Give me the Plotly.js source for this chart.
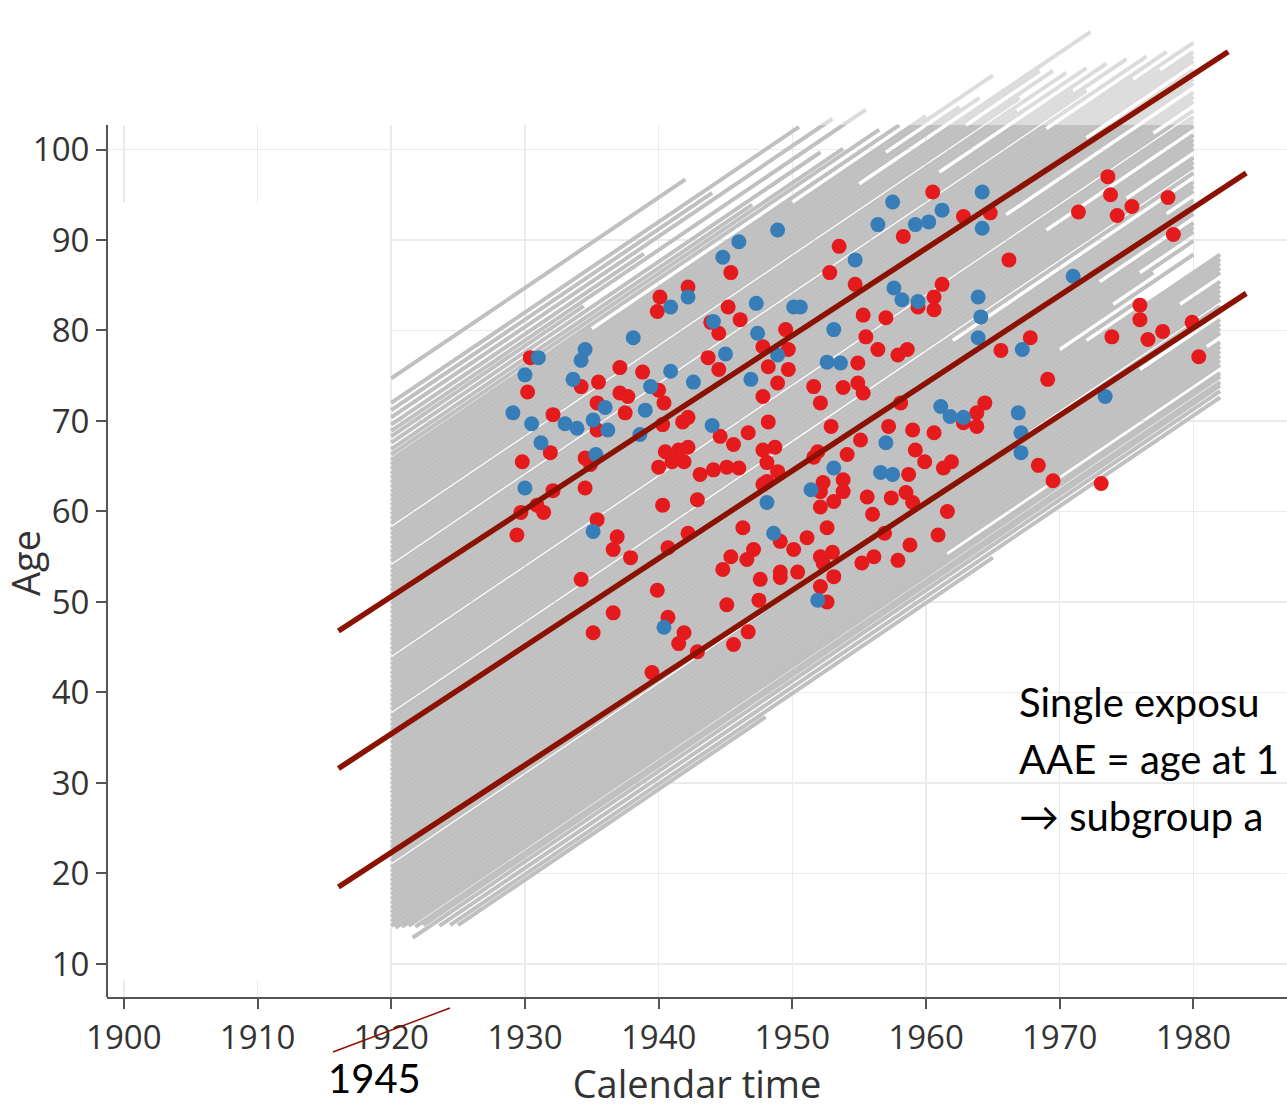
<!DOCTYPE html>
<html>
<head>
<meta charset="utf-8">
<script src="https://cdn.plot.ly/plotly-3.0.1.min.js"></script>
<style>
  html, body { margin: 0; padding: 0; background: #ffffff; overflow: hidden; }
  #chart { width: 1287px; height: 1109px; }
</style>
</head>
<body>
<div id="chart"></div>
<script>
// ---------- Data ----------
// Follow-up lines (Lexis lines): entry calendar year, entry age, exit calendar year
const lineEntryYear = [
  1920,1920,1920,1920,1920,1920,1920,1920,1920,1920,
  1920,1920,1920,1920,1920,1920,1920,1920,1920,1920,
  1920,1920,1920,1920,1920,1920,1920,1920,1920,1920,
  1920,1920,1920,1920,1920,1920,1920,1920,1920,1920,
  1920,1920,1920,1920,1920,1920,1920,1920,1920,1920,
  1920,1920,1920,1920,1920,1920,1920,1920,1920,1920,
  1920,1920,1920,1920,1920,1920,1920,1920,1920,1920,
  1920,1920,1920,1920,1920,1920,1920,1920,1920,1920,
  1920,1920,1920,1920,1920,1920,1920,1920,1920,1920,
  1920,1920,1920,1920,1920,1920,1920,1920,1920,1920,
  1920,1920,1920,1920,1920,1920,1920,1920,1920,1920,
  1920,1920,
  1920.3,1920.8,1921.3,1921.8,1922.4,1921.6,1923.6,1924.4,1925.0
];
const lineEntryAge = [
  74.7,72.0,71.2,70.4,69.6,68.9,68.3,67.6,66.9,66.3,
  65.7,65.2,64.7,64.2,63.7,63.2,62.7,62.2,61.7,61.2,
  60.7,60.2,59.7,59.2,58.7,58.0,57.5,57.0,56.5,56.0,
  55.5,55.0,54.5,53.8,53.3,52.8,52.3,51.8,51.3,50.8,
  50.3,49.8,49.3,48.8,48.3,47.8,47.3,46.8,46.3,45.8,
  45.3,44.8,44.3,43.6,43.1,42.6,42.1,41.6,41.1,40.6,
  40.1,39.6,39.1,38.6,38.1,37.4,36.9,36.4,35.9,35.4,
  34.9,34.4,33.9,33.4,32.9,32.4,31.9,31.4,30.9,30.4,
  29.9,29.4,28.9,28.4,27.9,27.4,26.9,26.4,25.9,25.4,
  24.9,24.4,23.9,23.4,22.9,22.4,21.9,21.4,20.7,20.2,
  19.7,19.2,18.7,18.2,17.7,17.2,16.7,16.2,15.7,15.2,
  14.7,14.2,
  14.0,14.1,14.2,14.1,14.3,12.9,14.2,14.3,14.3
];
const lineExitYear = [
  1942.0,1950.5,1944.0,1953.0,1938.9,1955.5,1934.4,1952.1,1947.0,1953.8,
  1956.5,1935.0,1958.0,1950.0,1960.0,1965.0,1957.0,1962.5,1964.0,1955.0,
  1972.3,1968.5,1963.0,1969.5,1967.0,1970.5,1966.8,1972.0,1961.0,1973.5,
  1971.0,1975.0,1972.0,1976.5,1969.0,1978.0,1975.5,1980.0,1977.5,1980.0,
  1980,1980,1972,1980,1980,1980,1980,1966,1980,1980,
  1980,1977,1980,1980,1980,1980,1969,1980,1980,1980,
  1980,1975,1980,1980,1980,1980,1962,1980,1980,1980,
  1978,1980,1980,1980,1980,1973,1980,1980,1980,1976,
  1980,1977,1974,1980,1970,1976,1972,1982,1982,1982,
  1982,1982,1979,1982,1982,1982,1982,1982,1982,1982,
  1976,1982,1982,1982,1982,1981,1982,1982,1982,1982,
  1982,1982,
  1961.6,1982,1982,1982,1982,1982,1982,1965,1948
];

// Cases (red) and subgroup (blue): calendar year, age
const redYear = [
  1945.4,1940.1,1942.2,1939.9,1945.2,1946.1,1943.9,1944.5,1952.8,1949.5,
  1947.8,1949.7,1948.2,1949.7,1948.9,1947.8,1951.6,1952.1,1943.7,1944.5,
  1930.4,1930.2,1935.5,1934.2,1937.1,1938.8,1937.1,1937.7,1937.5,1935.4,
  1935.4,1932.1,1940.0,1940.4,1940.3,1941.8,1942.2,1948.2,1944.6,1945.6,
  1946.7,1940.5,1941.5,1942.2,1940.0,1941.0,1941.9,1943.1,1944.1,1945.1,
  1946.0,1947.8,1948.7,1948.1,1947.8,1929.8,1931.9,1934.5,1934.9,1932.1,
  1951.6,1952.9,1952.3,1934.5,1930.9,1929.7,1931.4,1929.4,1935.4,1936.9,
  1936.6,1937.9,1940.3,1934.2,1939.9,1936.6,1935.1,1940.7,1941.5,1942.2,
  1940.7,1942.9,1941.9,1942.9,1939.5,1945.1,1945.6,1946.7,1947.5,1947.6,
  1949.1,1949.1,1950.4,1950.1,1949.1,1945.4,1946.6,1947.1,1944.8,1946.3,
  1951.1,1952.1,1953.0,1952.3,1953.1,1952.1,1952.6,1952.6,1955.2,1956.1,
  1957.9,1958.8,1960.9,1961.6,1956.9,1958.5,1958.7,1957.4,1955.6,1956.0,
  1959.0,1959.9,1961.3,1961.9,1952.1,1953.1,1953.8,1953.8,1952.1,1948.1,
  1948.9,1960.5,1962.8,1964.8,1958.3,1953.5,1954.7,1966.2,1973.6,1973.8,
  1971.4,1974.3,1975.4,1978.1,1978.5,1961.2,1960.6,1960.6,1959.4,1955.3,
  1957.0,1955.5,1956.4,1957.9,1958.6,1954.9,1953.8,1954.9,1955.3,1958.1,
  1955.1,1957.2,1965.6,1967.8,1969.1,1964.4,1963.8,1962.8,1959.0,1960.6,
  1959.2,1968.4,1969.5,1973.1,1976.0,1976.0,1973.9,1976.6,1977.7,1979.9,
  1980.4,1951.9,1954.1,1963.8
];
const redAge = [
  86.4,83.7,84.8,82.1,82.6,81.2,80.9,79.7,86.4,80.1,
  78.2,77.9,76.0,75.7,74.2,72.7,73.8,72.0,77.0,75.7,
  77.0,73.2,74.3,73.8,75.9,75.4,73.1,72.7,70.9,72.0,
  69.0,70.7,73.4,72.0,69.6,69.9,70.4,69.9,68.3,67.4,
  68.7,66.6,66.8,67.1,64.9,65.5,65.5,64.1,64.6,64.9,
  64.8,66.8,67.1,65.4,63.0,65.5,66.5,62.6,65.2,62.3,
  66.0,69.4,63.2,65.9,60.7,59.9,59.9,57.4,59.1,57.2,
  55.8,54.9,60.7,52.5,51.3,48.8,46.6,48.3,45.4,57.6,
  56.0,61.3,46.6,44.5,42.2,49.7,45.3,46.7,50.2,52.5,
  52.7,53.3,53.3,55.8,56.7,55.0,54.7,55.8,53.6,58.2,
  57.1,55.0,55.5,54.3,52.8,51.7,50.0,58.2,54.3,55.0,
  54.6,56.3,57.4,60.0,57.6,62.1,64.1,61.5,61.6,59.7,
  61.0,65.5,64.8,65.5,60.5,61.1,62.2,63.5,62.2,63.3,
  64.4,95.3,92.6,93.0,90.4,89.3,85.1,87.8,97.0,95.0,
  93.1,92.7,93.7,94.7,90.6,85.1,83.7,82.3,82.6,81.7,
  81.4,79.3,77.9,77.3,77.9,76.4,73.7,74.2,73.1,72.0,
  67.9,69.4,77.8,79.2,74.6,72.0,69.4,69.8,69.0,68.7,
  66.8,65.1,63.4,63.1,82.8,81.2,79.3,79.0,79.9,80.9,
  77.1,66.6,66.3,70.9
];
const blueYear = [
  1948.9,1946.0,1944.8,1940.9,1942.2,1947.3,1950.1,1944.1,1938.1,1934.5,
  1934.2,1931.0,1930.0,1947.4,1945.0,1948.9,1940.9,1942.6,1946.9,1933.6,
  1939.4,1929.1,1930.5,1933.0,1933.9,1935.1,1936.0,1936.2,1939.0,1938.6,
  1944.0,1931.2,1935.3,1930.0,1951.4,1952.6,1964.2,1957.5,1961.2,1956.4,
  1959.2,1960.2,1964.2,1954.7,1971.0,1957.6,1958.2,1959.4,1963.9,1964.1,
  1963.9,1950.6,1953.1,1953.6,1967.2,1961.1,1961.8,1962.8,1966.9,1967.1,
  1967.1,1973.4,1957.0,1956.6,1957.5,1953.1,1935.1,1940.4,1948.1,1951.9,
  1948.6
];
const blueAge = [
  91.1,89.8,88.1,82.6,83.7,83.0,82.6,81.0,79.2,77.9,
  76.7,77.0,75.1,79.7,77.4,77.3,75.5,74.3,74.6,74.6,
  73.8,70.9,69.7,69.7,69.2,70.1,71.5,69.0,71.2,68.5,
  69.5,67.6,66.3,62.6,62.4,76.5,95.3,94.2,93.3,91.7,
  91.7,92.0,91.3,87.8,86.0,84.7,83.4,83.2,83.7,81.5,
  79.2,82.6,80.1,76.4,77.9,71.6,70.5,70.4,70.9,68.7,
  66.5,72.7,67.6,64.3,64.1,64.8,57.8,47.2,61.0,50.2,
  57.6
];

// Hand-drawn reference lines (dark red): start/end calendar year and age
const refStartYear = [1916.05, 1916.05, 1916.05];
const refStartAge  = [46.8, 31.6, 18.5];
const refEndYear   = [1982.6, 1983.95, 1983.95];
const refEndAge    = [110.8, 97.4, 84.1];

const xTickVals = [1900, 1910, 1920, 1930, 1940, 1950, 1960, 1970, 1980];
const yTickVals = [10, 20, 30, 40, 50, 60, 70, 80, 90, 100];

// ---------- Build traces ----------
const lx = [], ly = [];
for (let i = 0; i < lineEntryYear.length; i++) {
  lx.push(lineEntryYear[i], lineExitYear[i], null);
  ly.push(lineEntryAge[i], lineEntryAge[i] + (lineExitYear[i] - lineEntryYear[i]), null);
}

const traces = [
  { type: 'scatter', mode: 'lines', x: lx, y: ly, hoverinfo: 'skip',
    line: { color: '#c0c0c0', width: 4 }, showlegend: false },
  { type: 'scatter', mode: 'markers', x: redYear, y: redAge, showlegend: false,
    marker: { color: '#e41a1c', size: 15, line: { width: 0 } } },
  { type: 'scatter', mode: 'markers', x: blueYear, y: blueAge, showlegend: false,
    marker: { color: '#377eb8', size: 15, line: { width: 0 } } }
];

// ---------- Layout ----------
const xRange = [1898.74, 1987.0];
const yRange = [6.35, 116.52];
const yAxisTop = 102.7;
const textColor = '#333333';
const axisColor = '#555555';
const darkRed = '#8b1100';

const refShapes = refStartYear.map((v, i) => ({
  type: 'line', layer: 'above', xref: 'x', yref: 'y',
  x0: refStartYear[i], y0: refStartAge[i], x1: refEndYear[i], y1: refEndAge[i],
  line: { color: darkRed, width: 5.5 }
}));

const layout = {
  width: 1287, height: 1109,
  margin: { l: 107, r: 0, t: 0, b: 112, pad: 0 },
  paper_bgcolor: '#ffffff', plot_bgcolor: '#ffffff',
  font: { family: 'Open Sans, sans-serif', color: textColor },
  showlegend: false,
  xaxis: {
    range: xRange, autorange: false, fixedrange: true,
    tickmode: 'array', tickvals: xTickVals, ticktext: xTickVals.map(String),
    ticks: 'outside', ticklen: 10, tickwidth: 2, tickcolor: axisColor,
    showline: true, linecolor: axisColor, linewidth: 2,
    showgrid: true, gridcolor: '#ebebeb', gridwidth: 1.5, zeroline: false,
    tickfont: { size: 33, color: textColor, family: 'Open Sans, sans-serif' },
    title: { text: 'Calendar time', font: { size: 38, color: textColor, family: 'Open Sans, sans-serif' } },
    automargin: false
  },
  yaxis: {
    range: yRange, autorange: false, fixedrange: true,
    tickmode: 'array', tickvals: yTickVals, ticktext: yTickVals.map(String),
    ticks: 'outside', ticklen: 10, tickwidth: 2, tickcolor: axisColor,
    showline: false,
    showgrid: true, gridcolor: '#ebebeb', gridwidth: 1.5, zeroline: false,
    tickfont: { size: 33, color: textColor, family: 'Open Sans, sans-serif' },
    automargin: false
  },
  shapes: [
    // blank patch left of the data (as in the reference)
    { type: 'rect', layer: 'between', xref: 'x', yref: 'y',
      x0: xRange[0], x1: 1919.9, y0: 8.2, y1: 94.1,
      fillcolor: '#ffffff', line: { width: 0 } },
    // blank area above the axis top
    { type: 'rect', layer: 'between', xref: 'x', yref: 'y',
      x0: xRange[0], x1: xRange[1], y0: yAxisTop, y1: yRange[1],
      fillcolor: '#ffffff', line: { width: 0 } },
    // faded band above the axis top
    { type: 'rect', layer: 'above', xref: 'x', yref: 'y',
      x0: xRange[0], x1: xRange[1], y0: yAxisTop, y1: yRange[1],
      fillcolor: 'rgba(255,255,255,0.45)', line: { width: 0 } },
    // y axis line (ends at the axis top)
    { type: 'line', layer: 'above', xref: 'paper', yref: 'y',
      x0: 0, x1: 0, y0: yRange[0], y1: yAxisTop,
      line: { color: axisColor, width: 2 } },
    // strike-through of the 1920 label
    { type: 'line', layer: 'above', xref: 'paper', yref: 'paper',
      x0: 0.1915, y0: -0.0552, x1: 0.2907, y1: -0.011,
      line: { color: darkRed, width: 1.5 } }
  ].concat(refShapes),
  annotations: [
    { text: 'Age', xref: 'paper', yref: 'paper', x: -0.0695, y: 0.4353,
      xanchor: 'center', yanchor: 'middle', textangle: -90, showarrow: false,
      font: { size: 38, color: textColor, family: 'Open Sans, sans-serif' } },
    { text: '1945', xref: 'paper', yref: 'paper', x: 0.2271, y: -0.0812,
      xanchor: 'center', yanchor: 'middle', showarrow: false,
      font: { size: 40, color: '#000000', family: 'Lato, Open Sans, sans-serif' } },
    { text: 'Single exposu', xref: 'paper', yref: 'paper', x: 0.7712, y: 0.2959,
      xanchor: 'left', yanchor: 'middle', showarrow: false,
      font: { size: 40, color: '#000000', family: 'Lato, Open Sans, sans-serif' } },
    { text: 'AAE = age at 1', xref: 'paper', yref: 'paper', x: 0.7712, y: 0.2387,
      xanchor: 'left', yanchor: 'middle', showarrow: false,
      font: { size: 40, color: '#000000', family: 'Lato, Open Sans, sans-serif' } },
    { text: '\u2192 subgroup a', xref: 'paper', yref: 'paper', x: 0.7712, y: 0.1815,
      xanchor: 'left', yanchor: 'middle', showarrow: false,
      font: { size: 40, color: '#000000', family: 'Lato, Open Sans, sans-serif' } }
  ]
};

Plotly.newPlot('chart', traces, layout, { displayModeBar: false, staticPlot: true });
</script>
</body>
</html>
